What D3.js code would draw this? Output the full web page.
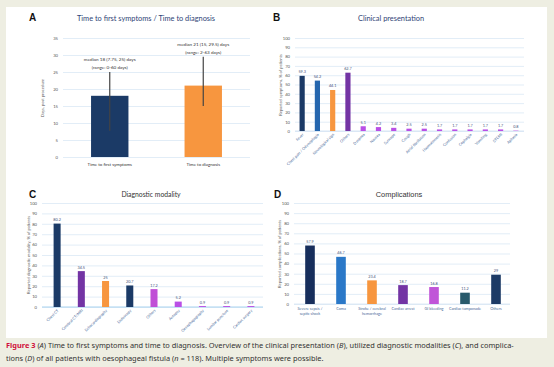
<!DOCTYPE html>
<html>
<head>
<meta charset="utf-8">
<script src="https://cdn.jsdelivr.net/npm/d3@7"></script>
<style>
  body { margin: 0; background: #eeeee2; }
  svg { display: block; }
  .tick text { fill: #555; }
</style>
</head>
<body>
<svg id="fig" width="554" height="367"></svg>
<script>
// panel A: time to symptoms / diagnosis
var aCategories = ["Time to first symptoms", "Time to diagnosis"];
var aMedians = [18, 21];
var aLow = [7.75, 15];
var aHigh = [25, 29.5];
var aNotes = [["median 18 (7.75, 25) days", "(range: 0-60 days)"],
              ["median 21 (15, 29.5) days", "(range: 2-63 days)"]];
var aColors = ["#1b3a66", "#f7963f"];
var aTicks = [0, 5, 10, 15, 20, 25, 30, 35];

// panel B: clinical presentation
var bCategories = ["Fever", "Chest pain / Odynophagia", "Neurological sign", "Others", "Dyspnea",
                   "Nausea", "Syncope", "Cough", "Atrial fibrillation", "Haematemesis",
                   "Confusion", "Cephalgia", "Vomiting", "STEMI", "Aphasia"];
var bValues = [59.3, 54.2, 44.1, 62.7, 5.1, 4.2, 3.4, 2.5, 2.5, 1.7, 1.7, 1.7, 1.7, 1.7, 0.8];
var bColors = ["#1b3a66", "#2566ae", "#f7963f", "#7334a4", "#b94fe6", "#b94fe6", "#b94fe6",
               "#b94fe6", "#b94fe6", "#b94fe6", "#b94fe6", "#b94fe6", "#b94fe6", "#b94fe6", "#d9a3f0"];

// panel C: diagnostic modality
var cCategories = ["Chest CT", "Cerebral CT/MRI", "Echocardiography", "Endoscopy", "Others",
                   "Autopsy", "Oesophagography", "Lumbar puncture", "Cardiac surgery"];
var cValues = [80.2, 34.5, 25, 20.7, 17.2, 5.2, 0.9, 0.9, 0.9];
var cColors = ["#1b3a66", "#7334a4", "#f7963f", "#1b3a66", "#c04fd6", "#b94fe6", "#b94fe6", "#b94fe6", "#b94fe6"];

// panel D: complications
var dCategories = [["Severe sepsis /", "septic shock"], ["Coma"], ["Stroke / cerebral", "hemorrhage"],
                   ["Cardiac arrest"], ["GI bleeding"], ["Cardiac tamponade"], ["Others"]];
var dValues = [57.9, 46.7, 23.4, 18.7, 16.8, 11.2, 29];
var dColors = ["#172e5c", "#2a78c8", "#f7963f", "#7334a4", "#c055d8", "#285a6b", "#1d3b66"];

var pctTicks = d3.range(0, 101, 10);

var svg = d3.select("#fig");
svg.append("rect").attr("x", 6).attr("y", 7).attr("width", 541).attr("height", 331).attr("fill", "#fff");

function panelLetter(x, y, s) {
    svg.append("text").attr("x", x).attr("y", y).text(s)
        .attr("font-family", "Liberation Sans, Arial").attr("font-weight", "bold")
        .attr("font-size", 10).attr("fill", "#111");
}

function title(x, y, s, font, size, color) {
    svg.append("text").attr("x", x).attr("y", y).text(s).attr("text-anchor", "middle")
        .attr("font-family", font).attr("font-size", size).attr("fill", color);
}

// grid + y ticks
function yGrid(g, y, ticks, x0, x1, fmt) {
    var ax = d3.axisLeft(y).tickValues(ticks).tickSize(-(x1 - x0)).tickPadding(5).tickFormat(fmt || d3.format("d"));
    g.append("g").attr("transform", "translate(" + x0 + ",0)").call(ax)
        .call(function (s) {
            s.select(".domain").remove();
            s.selectAll(".tick line").attr("stroke", "#d5e5f4").attr("stroke-width", 0.7);
            s.selectAll(".tick text").attr("font-family", "Lato, sans-serif").attr("font-size", 4.2).attr("fill", "#666");
        });
}

function yLabel(x, yc, s) {
    svg.append("text").attr("transform", "translate(" + x + "," + yc + ") rotate(-90)")
        .attr("text-anchor", "middle").text(s)
        .attr("font-family", "Lato, sans-serif").attr("font-size", 4.1).attr("fill", "#555");
}

// generic percentage bar panel
function barPanel(o) {
    var g = svg.append("g");
    var x = d3.scaleBand().domain(d3.range(o.values.length)).range(o.xr)
        .paddingInner(o.pad).paddingOuter(o.pad / 2);
    var y = d3.scaleLinear().domain([0, 100]).range(o.yr);
    yGrid(g, y, pctTicks, o.gx[0], o.gx[1]);
    g.append("line").attr("x1", o.gx[0]).attr("x2", o.gx[1]).attr("y1", y(0)).attr("y2", y(0))
        .attr("stroke", o.axisColor).attr("stroke-width", o.axisWidth);
    g.selectAll("rect.bar").data(o.values).enter().append("rect")
        .attr("x", function (d, i) { return x(i); })
        .attr("y", function (d) { return y(d); })
        .attr("width", x.bandwidth())
        .attr("height", function (d) { return y(0) - y(d); })
        .attr("fill", function (d, i) { return o.colors[i]; });
    g.selectAll("text.val").data(o.values).enter().append("text")
        .attr("x", function (d, i) { return x(i) + x.bandwidth() / 2; })
        .attr("y", function (d) { return y(d) - 2.5; })
        .attr("text-anchor", "middle").text(function (d) { return d; })
        .attr("font-family", "Lato, sans-serif").attr("font-size", 3.8).attr("fill", "#3f5078");
    if (o.rotate) {
        g.selectAll("text.cat").data(o.categories).enter().append("text")
            .attr("transform", function (d, i) {
                return "translate(" + (x(i) + x.bandwidth() / 2 + 1) + "," + (y(0) + 3) + ") rotate(-45)";
            })
            .attr("text-anchor", "end").attr("dy", "0.3em").text(function (d) { return d; })
            .attr("font-family", "Lato, sans-serif").attr("font-size", 3.8).attr("fill", "#4a6a9a");
    } else {
        o.categories.forEach(function (lines, i) {
            lines.forEach(function (s, k) {
                g.append("text").attr("x", x(i) + x.bandwidth() / 2).attr("y", y(0) + 6 + k * 4.5)
                    .attr("text-anchor", "middle").text(s)
                    .attr("font-family", "Lato, sans-serif").attr("font-size", 3.8).attr("fill", "#4a6a9a");
            });
        });
    }
}

// ---- Panel A ----
panelLetter(29, 21, "A");
title(146, 21, "Time to first symptoms / Time to diagnosis", "Lato, sans-serif", 7.4, "#2f4476");
var gA = svg.append("g");
var xA = d3.scaleBand().domain(aCategories).range([63, 250]).paddingInner(0.6).paddingOuter(0.3);
var yA = d3.scaleLinear().domain([0, 35]).range([157, 38]);
yGrid(gA, yA, aTicks, 63, 250);
gA.selectAll("rect").data(aMedians).enter().append("rect")
    .attr("x", function (d, i) { return xA(aCategories[i]); })
    .attr("y", function (d) { return yA(d); })
    .attr("width", xA.bandwidth())
    .attr("height", function (d) { return yA(0) - yA(d); })
    .attr("fill", function (d, i) { return aColors[i]; });
aCategories.forEach(function (c, i) {
    var cx = xA(c) + xA.bandwidth() / 2;
    gA.append("line").attr("x1", cx).attr("x2", cx).attr("y1", yA(aLow[i])).attr("y2", yA(aHigh[i]))
        .attr("stroke", "#444").attr("stroke-width", 1.2);
    aNotes[i].forEach(function (s, k) {
        gA.append("text").attr("x", cx).attr("y", yA(aHigh[i]) - 3 - (1 - k) * 8)
            .attr("text-anchor", "middle").text(s)
            .attr("font-family", "Lato, sans-serif").attr("font-size", 4.6).attr("fill", "#333");
    });
    gA.append("text").attr("x", cx).attr("y", 166).attr("text-anchor", "middle").text(c)
        .attr("font-family", "Lato, sans-serif").attr("font-size", 4.4).attr("fill", "#333");
});
yLabel(44, 98, "Days, post procedure");

// ---- Panel B ----
panelLetter(273, 21, "B");
title(391, 21, "Clinical presentation", "Lato, sans-serif", 7.4, "#2f4476");
barPanel({ categories: bCategories, values: bValues, colors: bColors, xr: [294.5, 523.5], pad: 0.66,
    yr: [131, 38], gx: [295, 524], rotate: true, axisColor: "#cfe0f2", axisWidth: 0.8 });
yLabel(282, 85, "Reported symptoms, % of patients");

// ---- Panel C ----
panelLetter(29, 198, "C");
title(151, 197, "Diagnostic modality", "Lato, sans-serif", 6.8, "#333");
barPanel({ categories: cCategories, values: cValues, colors: cColors, xr: [45, 263], pad: 0.71,
    yr: [307, 203], gx: [42, 263], rotate: true, axisColor: "#a9d3ef", axisWidth: 1.2 });
yLabel(30, 255, "Reported diagnostic modality, % of patients");

// ---- Panel D ----
panelLetter(274, 198, "D");
title(399, 197, "Complications", "Liberation Sans, Arial", 7.4, "#333");
barPanel({ categories: dCategories, values: dValues, colors: dColors, xr: [294.5, 511.5], pad: 0.69,
    yr: [304, 203], gx: [294, 510], rotate: false, axisColor: "#d5e5f4", axisWidth: 0.8 });
yLabel(281, 254, "Reported complications, % of patients");

// ---- Caption ----
var cap1 = svg.append("text").attr("x", 6).attr("y", 348).attr("font-family", "Noto Sans, sans-serif")
    .attr("font-size", 7.4).attr("fill", "#333");
cap1.append("tspan").text("Figure 3").attr("font-weight", "bold").attr("fill", "#d0103a");
cap1.append("tspan").text(" (");
cap1.append("tspan").text("A").attr("font-style", "italic");
cap1.append("tspan").text(") Time to first symptoms and time to diagnosis. Overview of the clinical presentation (");
cap1.append("tspan").text("B").attr("font-style", "italic");
cap1.append("tspan").text("), utilized diagnostic modalities (");
cap1.append("tspan").text("C").attr("font-style", "italic");
cap1.append("tspan").text("), and complica-");
var cap2 = svg.append("text").attr("x", 6).attr("y", 361).attr("font-family", "Noto Sans, sans-serif")
    .attr("font-size", 7.4).attr("fill", "#333");
cap2.append("tspan").text("tions (");
cap2.append("tspan").text("D").attr("font-style", "italic");
cap2.append("tspan").text(") of all patients with oesophageal fistula (");
cap2.append("tspan").text("n").attr("font-style", "italic");
cap2.append("tspan").text(" = 118). Multiple symptoms were possible.");
</script>
</body>
</html>
